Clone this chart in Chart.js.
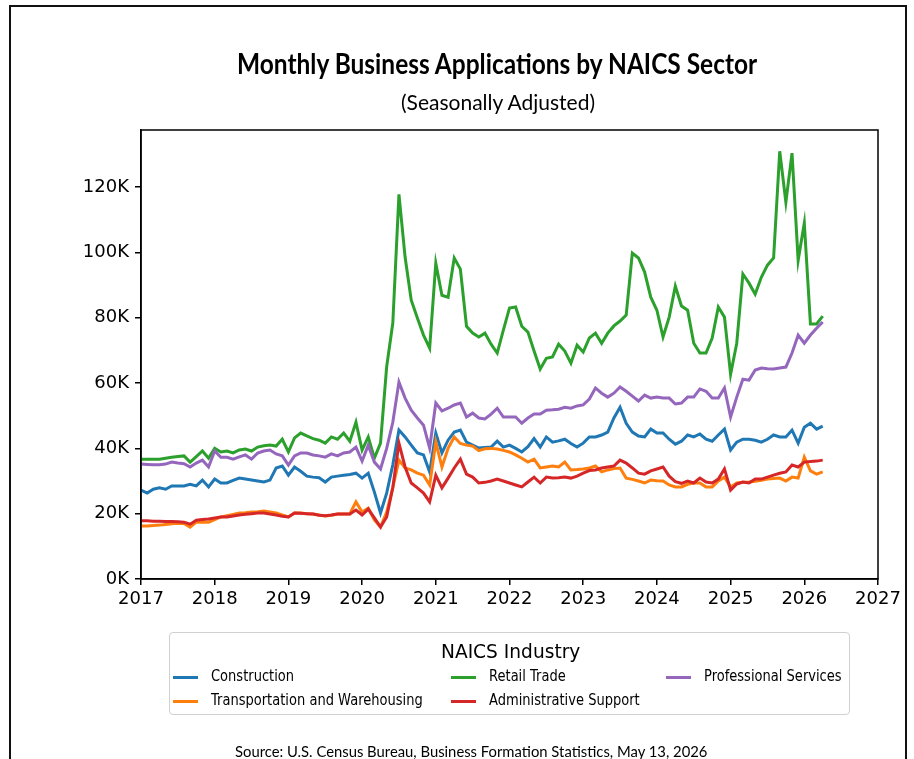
<!DOCTYPE html>
<html><head><meta charset="utf-8">
<script src="https://cdn.jsdelivr.net/npm/chart.js@4.4.1/dist/chart.umd.min.js"></script>
<style>
html,body{margin:0;padding:0;background:#fff;width:914px;height:759px;overflow:hidden;}
#wrap{position:relative;width:914px;height:759px;}
#frame{position:absolute;left:9px;top:5px;width:894px;height:800px;border:2px solid #111;border-bottom:none;}
#c{position:absolute;left:0;top:0;}
.txt{position:absolute;white-space:nowrap;color:#000;transform-origin:left top;line-height:1;}
#legend{position:absolute;left:169px;top:632px;width:681px;height:83px;border:1px solid #d0d0d0;border-radius:4px;box-sizing:border-box;}
.hl{position:absolute;height:3px;width:25px;}
</style></head>
<body><div id="wrap">
<div id="frame"></div>
<canvas id="c" width="914" height="759"></canvas>
<div class="txt" id="title" style="font-family:Lato,'Open Sans',sans-serif;font-weight:700;font-size:28px;">Monthly Business Applications by NAICS Sector</div>
<div class="txt" id="subtitle" style="font-family:Lato,'Open Sans',sans-serif;font-size:21px;">(Seasonally Adjusted)</div>
<div id="legend"></div>
<div class="txt" id="source" style="font-family:Lato,'Open Sans',sans-serif;font-size:15px;">Source: U.S. Census Bureau, Business Formation Statistics, May 13, 2026</div>
</div>
<script>
// ---- data (thousands of applications, monthly Jan 2017 - Apr 2026) ----
const startYear = 2017;
const monthCount = 112;
const months = [];
for (let i = 0; i < monthCount; i++) {
  const y = startYear + Math.floor(i / 12), m = (i % 12) + 1;
  months.push(y + '-' + String(m).padStart(2, '0'));
}
const seriesNames = ['Construction','Transportation and Warehousing','Retail Trade','Administrative Support','Professional Services'];
const seriesColors = ['#1f77b4','#ff7f0e','#2ca02c','#d62728','#9467bd'];
const construction = [27.2,26.3,27.5,27.9,27.5,28.5,28.5,28.5,29.0,28.5,30.3,28.2,
 30.6,29.4,29.4,30.2,30.9,30.6,30.3,30.0,29.7,30.3,34.0,34.6,
 31.8,34.3,33.0,31.5,31.2,31.0,29.7,31.2,31.5,31.8,32.0,32.4,
 30.9,32.4,26.6,20.2,26.3,35.0,45.6,43.5,41.0,38.6,38.0,32.8,
 44.7,38.6,42.5,45.0,45.6,41.9,41.0,40.1,40.3,40.4,42.2,40.4,
 41.0,40.0,38.9,40.5,43.0,40.4,43.5,41.9,42.3,42.8,41.5,40.4,
 41.6,43.5,43.5,44.1,45.0,49.3,52.6,47.7,45.0,43.8,43.5,45.9,
 44.7,44.7,42.8,41.3,42.2,44.1,43.5,44.4,42.8,42.2,44.1,45.9,
 39.5,41.9,42.8,42.8,42.5,41.9,42.8,44.1,43.5,43.5,45.6,41.6,
 46.5,47.7,45.9,46.8];
const transportation = [16.2,16.2,16.4,16.5,16.7,16.9,17.1,17.0,15.9,17.4,17.4,17.4,
 18.2,19.0,19.4,19.8,20.2,20.3,20.5,20.6,20.8,20.5,20.2,19.6,
 19.0,20.2,20.2,20.0,19.9,19.6,19.3,19.5,19.9,19.9,19.9,23.6,
 20.5,21.7,18.1,15.9,20.5,28.0,36.4,34.0,33.4,32.4,31.8,28.8,
 41.9,34.3,40.0,43.5,41.5,41.0,40.7,39.3,39.9,40.0,39.8,39.4,
 38.9,38.0,37.0,35.8,36.7,34.0,34.3,34.6,34.3,35.8,33.4,33.5,
 33.7,34.0,34.6,32.8,33.4,33.8,34.0,30.9,30.5,30.0,29.4,30.3,
 30.1,30.0,28.8,28.2,28.2,29.0,29.4,29.4,28.2,28.2,30.0,31.2,
 28.2,29.4,29.6,29.7,29.9,30.2,30.6,30.8,30.9,30.0,31.2,30.9,
 37.3,33.1,32.1,32.8];
const retail = [36.7,36.7,36.7,36.7,37.0,37.3,37.5,37.7,35.8,37.5,39.2,37.0,
 40.0,38.9,39.2,38.6,39.5,39.8,39.2,40.4,40.8,41.0,40.7,42.8,
 38.9,43.2,44.7,43.8,43.0,42.5,41.6,43.5,42.8,44.7,42.2,48.0,
 39.5,43.5,37.0,41.6,65.0,78.4,117.8,98.6,85.4,79.9,74.7,70.7,
 96.7,86.9,86.3,98.3,94.9,77.4,75.3,74.1,75.3,71.9,69.2,76.2,
 83.0,83.3,77.4,75.6,69.8,64.3,67.6,68.0,71.9,69.8,66.1,71.6,
 69.5,73.8,75.3,72.2,75.3,77.5,79.0,80.8,99.8,98.3,94.0,86.3,
 82.3,74.1,80.2,89.7,83.6,82.3,72.2,69.2,69.2,73.8,83.3,80.2,
 62.7,72.2,93.4,90.6,87.2,92.4,96.1,98.3,131.0,115.4,130.4,97.6,
 109.0,78.1,78.1,80.5];
const administrative = [17.8,17.8,17.7,17.7,17.6,17.6,17.5,17.4,16.8,18.0,18.2,18.4,
 18.7,19.0,19.0,19.3,19.6,19.8,20.0,20.2,20.2,19.9,19.6,19.2,
 19.0,20.2,20.1,20.0,19.9,19.5,19.4,19.6,19.9,19.9,19.9,21.1,
 19.6,21.4,18.7,15.9,19.0,28.0,41.6,34.3,29.4,27.9,26.3,23.6,
 31.8,27.9,30.9,34.0,36.7,32.1,31.2,29.4,29.6,30.0,30.6,30.0,
 29.4,28.8,28.2,29.7,31.2,29.4,31.2,30.9,31.0,31.2,30.9,31.5,
 32.4,33.2,33.4,34.0,34.3,34.6,36.4,35.5,34.0,32.4,32.1,33.1,
 33.7,34.3,31.5,29.8,29.3,30.0,29.4,30.9,29.7,29.4,30.6,33.7,
 27.2,29.1,29.7,29.4,30.6,30.6,31.2,31.8,32.4,32.8,34.9,34.3,
 35.8,36.0,36.1,36.4];
const professional = [35.2,35.1,35.0,35.0,35.2,35.8,35.5,35.3,34.3,35.5,36.4,34.3,
 39.2,37.3,37.3,36.7,37.4,38.0,36.7,38.6,39.2,39.5,38.3,37.7,
 34.9,37.7,38.6,38.6,38.0,37.7,37.3,38.3,37.7,38.6,38.9,40.4,
 36.1,41.0,35.8,33.7,40.0,48.0,60.3,55.4,51.7,49.3,47.1,40.1,
 53.9,51.5,52.3,53.3,53.9,49.6,50.8,49.3,49.0,50.5,52.3,49.6,
 49.6,49.6,47.7,49.3,50.5,50.5,51.7,51.8,52.0,52.6,52.3,53.0,
 53.3,55.1,58.5,56.9,55.7,56.9,58.8,57.5,56.0,54.5,56.3,55.4,
 55.7,55.4,55.4,53.6,53.9,55.7,55.7,58.2,57.5,55.4,55.4,58.5,
 49.6,55.7,61.2,60.9,64.0,64.6,64.4,64.3,64.6,64.9,69.2,74.7,
 72.2,74.7,76.8,78.7];
const seriesValues = [construction, transportation, retail, administrative, professional];
const xTicks = [2017,2018,2019,2020,2021,2022,2023,2024,2025,2026,2027];
const yTicks = [0,20,40,60,80,100,120];

// ---- helpers ----
function monthToYear(s){ const [y,m] = s.split('-').map(Number); return y + (m-1)/12; }
function fitText(id, cx, cy, width){
  const el = document.getElementById(id);
  const w = el.offsetWidth, h = el.offsetHeight;
  el.style.transform = 'scaleX(' + (width / w) + ')';
  el.style.left = (cx - width/2) + 'px';
  el.style.top = (cy - h/2) + 'px';
}

// ---- legend (matplotlib ncol=3, column-major) ----
const legend = document.getElementById('legend');
const lt = document.createElement('div');
lt.className = 'txt'; lt.id = 'legtitle';
lt.style.fontFamily = "'DejaVu Sans',sans-serif"; lt.style.fontSize = '20px';
lt.textContent = 'NAICS Industry';
legend.appendChild(lt);
const colX = [3, 281, 496];
const rowY = [44, 68];
seriesNames.forEach((n, i) => {
  const col = Math.floor(i / 2), row = i % 2;
  const ln = document.createElement('div');
  ln.className = 'hl'; ln.style.background = seriesColors[i];
  ln.style.left = colX[col] + 'px'; ln.style.top = (rowY[row] - 1.5) + 'px';
  legend.appendChild(ln);
  const t = document.createElement('div');
  t.className = 'txt'; t.textContent = n;
  t.style.fontFamily = "'DejaVu Sans',sans-serif"; t.style.fontSize = '15px';
  t.style.left = (colX[col] + 38) + 'px'; t.style.top = (rowY[row] - 8.5) + 'px';
  t.style.transform = 'scaleX(0.87)';
  legend.appendChild(t);
});
{
  const w = lt.offsetWidth, h = lt.offsetHeight;
  lt.style.transform = 'scaleX(0.93)';
  lt.style.left = (341 - w*0.93/2) + 'px'; lt.style.top = (18 - h/2) + 'px';
}
fitText('title', 497, 63, 520);
fitText('subtitle', 498, 101, 194);
fitText('source', 471, 751, 472);

// ---- chart ----
const frameBox = {
  id: 'frameBox',
  afterDatasetsDraw(c){
    const a = c.chartArea, g = c.ctx;
    g.save(); g.strokeStyle = '#000'; g.lineWidth = 1.5;
    g.strokeRect(a.left, a.top, a.right - a.left, a.bottom - a.top);
    g.restore();
  }
};
new Chart(document.getElementById('c'), {
  type: 'line',
  data: {
    datasets: seriesNames.map((n, i) => ({
      label: n,
      data: months.map((mo, j) => ({ x: monthToYear(mo), y: seriesValues[i][j] })),
      borderColor: seriesColors[i],
      backgroundColor: seriesColors[i],
      borderWidth: 3,
      pointRadius: 0,
      tension: 0,
      fill: false,
      order: 10 - i
    }))
  },
  options: {
    responsive: false, animation: false, devicePixelRatio: 1,
    layout: { padding: { left: 0, top: 130, right: 36, bottom: 140 } },
    plugins: { legend: { display: false }, tooltip: { enabled: false }, title: { display: false } },
    scales: {
      x: {
        type: 'linear', min: xTicks[0], max: xTicks[xTicks.length-1],
        afterBuildTicks(s){ s.ticks = xTicks.map(v => ({ value: v })); },
        afterFit(s){ s.height = 40; },
        ticks: { callback: v => String(v), color: '#000', font: { family: 'DejaVu Sans', size: 18 }, padding: 4, maxRotation: 0, autoSkip: false },
        grid: { display: true, drawOnChartArea: false, drawTicks: true, tickLength: 6, color: '#000', lineWidth: 1.5 },
        border: { display: true, color: '#000', width: 1.5 }
      },
      y: {
        type: 'linear', min: 0, max: 137.5,
        afterBuildTicks(s){ s.ticks = yTicks.map(v => ({ value: v })); },
        afterFit(s){ s.width = 141; },
        ticks: { callback: v => v + 'K', color: '#000', font: { family: 'DejaVu Sans', size: 18 }, padding: 6 },
        grid: { display: true, drawOnChartArea: false, drawTicks: true, tickLength: 6, color: '#000', lineWidth: 1.5 },
        border: { display: true, color: '#000', width: 1.5 }
      }
    }
  },
  plugins: [frameBox]
});
</script>
</body></html>
